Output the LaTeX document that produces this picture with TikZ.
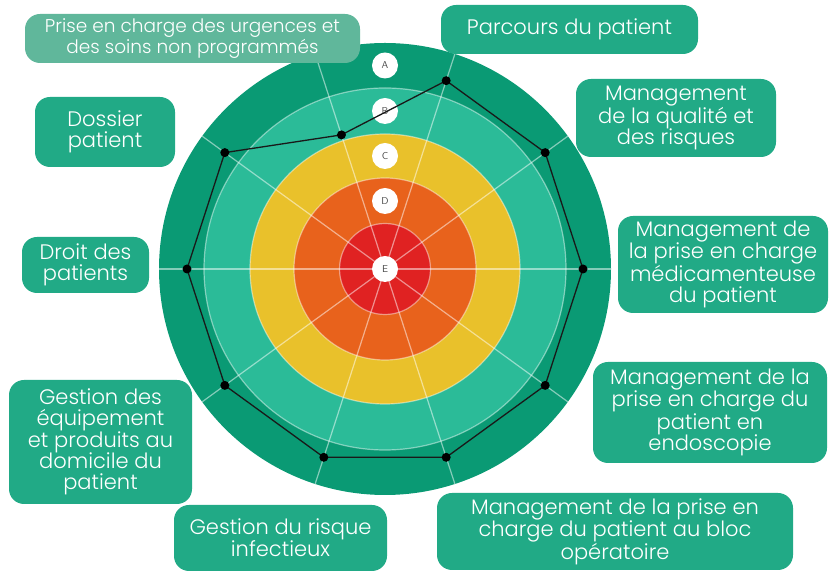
\documentclass[tikz,border=0pt]{standalone}
\usepackage{fontspec}
\setmainfont{Poppins}[UprightFont={* Light}]

\definecolor{ringA}{HTML}{0A9A74}
\definecolor{ringB}{HTML}{2BBB98}
\definecolor{ringC}{HTML}{E9C12B}
\definecolor{ringD}{HTML}{E8621C}
\definecolor{ringE}{HTML}{E02222}
\definecolor{boxgreen}{HTML}{21AA86}
\definecolor{boxpale}{HTML}{60B79B}

\tikzset{
  topic/.style={fill=boxgreen, text=white, rounded corners=15pt, align=center, inner sep=0pt, font=\fontsize{21}{21.3}\selectfont},
  grade/.style={circle, fill=white, minimum size=26pt, inner sep=0pt, text=black!70, font=\sffamily\fontsize{10}{10}\selectfont},
  score/.style={circle, fill=black, minimum size=9pt, inner sep=0pt},
  spoke/.style={white, opacity=0.5, line width=1.2pt},
  ringline/.style={white, opacity=0.45, line width=1.2pt}
}

\begin{document}
\begin{tikzpicture}[x=1pt, y=1pt]
  \useasboundingbox (0,0) rectangle (833,572);

  \begin{scope}[shift={(385,303)}]
    % rings
    \fill[ringA] (0,0) circle (226);
    \fill[ringB] (0,0) circle (181);
    \fill[ringC] (0,0) circle (135);
    \fill[ringD] (0,0) circle (91);
    \fill[ringE] (0,0) circle (45.5);
    \foreach \r in {181,135,91,45.5}
      \draw[ringline] (0,0) circle (\r);

    \foreach \a in {0,36,...,324}
      \draw[spoke] (0,0) -- (\a:226);

    \node[grade] (gA) at (0,203.5) {A};
    \node[grade] (gB) at (0,158) {B};
    \node[grade] (gC) at (0,113) {C};
    \node[grade] (gD) at (0,68) {D};
    \node[grade] (gE) at (0,0) {E};

    % scores
    \foreach \a/\r [count=\i] in {0/198,36/198,72/198,108/141,144/198,180/198,216/198,252/198,288/198,324/198}
      \coordinate (p\i) at (\a:\r);
    \draw[black!90, line width=1.3pt, line join=round] (p1) -- (p2) -- (p3) -- (p4) -- (p5) -- (p6) -- (p7) -- (p8) -- (p9) -- (p10) -- cycle;
    \foreach \i in {1,...,10}
      \node[score] (s\i) at (p\i) {};
  \end{scope}

  % labels
  \node[topic, fill=boxpale, minimum width=335pt, minimum height=49pt, font=\fontsize{18.5}{18}\selectfont] (urgences) at (192.5,533.5) {Prise en charge des urgences et\\des soins non programmés};
  \node[topic, minimum width=257pt, minimum height=49pt] (parcours) at (569.5,542.5) {Parcours du patient};
  \node[topic, minimum width=200pt, minimum height=78pt] (qualite) at (676,454) {Management\\de la qualité et\\des risques};
  \node[topic, minimum width=210pt, minimum height=97pt] (medic) at (723,307.5) {Management de\\la prise en charge\\médicamenteuse\\du patient};
  \node[topic, minimum width=234pt, minimum height=101pt] (endo) at (710,159.5) {Management de la\\prise en charge du\\patient en\\endoscopie};
  \node[topic, minimum width=356pt, minimum height=77pt] (bloc) at (615,40.5) {Management de la prise en\\charge du patient au bloc\\opératoire};
  \node[topic, minimum width=213pt, minimum height=66pt] (infect) at (280.5,34) {Gestion du risque\\infectieux};
  \node[topic, minimum width=183pt, minimum height=124pt] (domicile) at (100.5,130) {Gestion des\\équipement\\et produits au\\domicile du\\patient};
  \node[topic, minimum width=127pt, minimum height=56pt] (droit) at (85.5,307) {Droit des\\patients};
  \node[topic, minimum width=140pt, minimum height=70pt] (dossier) at (105,440) {Dossier\\patient};

\end{tikzpicture}
\end{document}
